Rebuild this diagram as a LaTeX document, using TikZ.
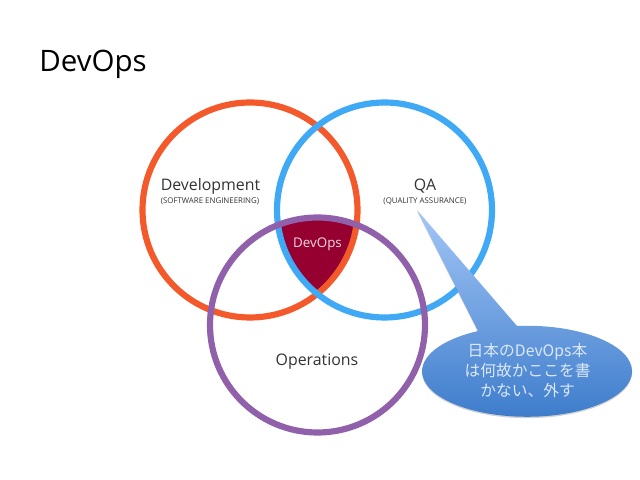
\documentclass[tikz,border=0pt]{standalone}
\usepackage{fontspec}
\setmainfont{Open Sans}
\newfontfamily\cjk{Noto Sans CJK JP}
\usetikzlibrary{shadows}
\definecolor{devorange}{HTML}{F4592B}
\definecolor{qablue}{HTML}{3FA9F5}
\definecolor{opspurple}{HTML}{9060AA}
\definecolor{coredred}{HTML}{960030}
\definecolor{labelgray}{HTML}{333333}
\definecolor{notetop}{HTML}{A3C6F7}
\definecolor{notebottom}{HTML}{3D7CCB}
\definecolor{notetext}{HTML}{DCE8F8}
\tikzset{
  ring/.style={line width=4.4pt},
  biglabel/.style={text=labelgray,font=\fontsize{11.3}{13}\selectfont,inner sep=0pt},
  smalllabel/.style={text=labelgray,font=\fontsize{5.6}{6}\selectfont,inner sep=0pt}
}
\begin{document}
\begin{tikzpicture}[x=0.025cm,y=0.025cm]

    % Khung hinh
    \useasboundingbox (0,0) rectangle (640,480);
    \fill[white] (0,0) rectangle (640,480);

    % Tam ba vong tron
    \coordinate (D) at (250,270);
    \coordinate (Q) at (384.5,270);
    \coordinate (P) at (317.5,155);

    % Vung giao o giua
    \begin{scope}
        \clip (D) circle (107.5);
        \clip (Q) circle (107.5);
        \fill[coredred] (P) circle (107.5);
    \end{scope}

    % Ba vong tron
    \draw[ring,devorange] (D) circle (107.5);
    \draw[ring,qablue] (Q) circle (107.5);
    \draw[ring,opspurple] (P) circle (107.5);

    % Chu
    \node[anchor=base west,inner sep=0pt,text=black,font=\fontsize{21}{25}\selectfont] (title) at (39,408) {DevOps};
    \node[biglabel] (dev) at (210.5,293.5) {Development};
    \node[smalllabel] (devsub) at (210,278.5) {(SOFTWARE ENGINEERING)};
    \node[biglabel] (qa) at (425,293.5) {QA};
    \node[smalllabel] (qasub) at (425,278.5) {(QUALITY ASSURANCE)};
    \node[biglabel,text=white!85!coredred,font=\fontsize{9.5}{11}\selectfont] (core) at (317.5,236) {DevOps};
    \node[biglabel] (ops) at (317,118.5) {Operations};

    % Bong noi
    \path[drop shadow={opacity=.35,shadow xshift=0pt,shadow yshift=-1pt},top color=notetop,bottom color=notebottom]
        (417,270) -- (517,154) arc[start angle=95.5,end angle=-242.2,x radius=105,y radius=45.5] -- cycle;
    \node[text=notetext,align=center,inner sep=0pt,font=\cjk\fontsize{11.2}{14.4}\selectfont] (note) at (527.5,109.5) {日本のDevOps本\\は何故かここを書\\かない、外す};

\end{tikzpicture}
\end{document}
